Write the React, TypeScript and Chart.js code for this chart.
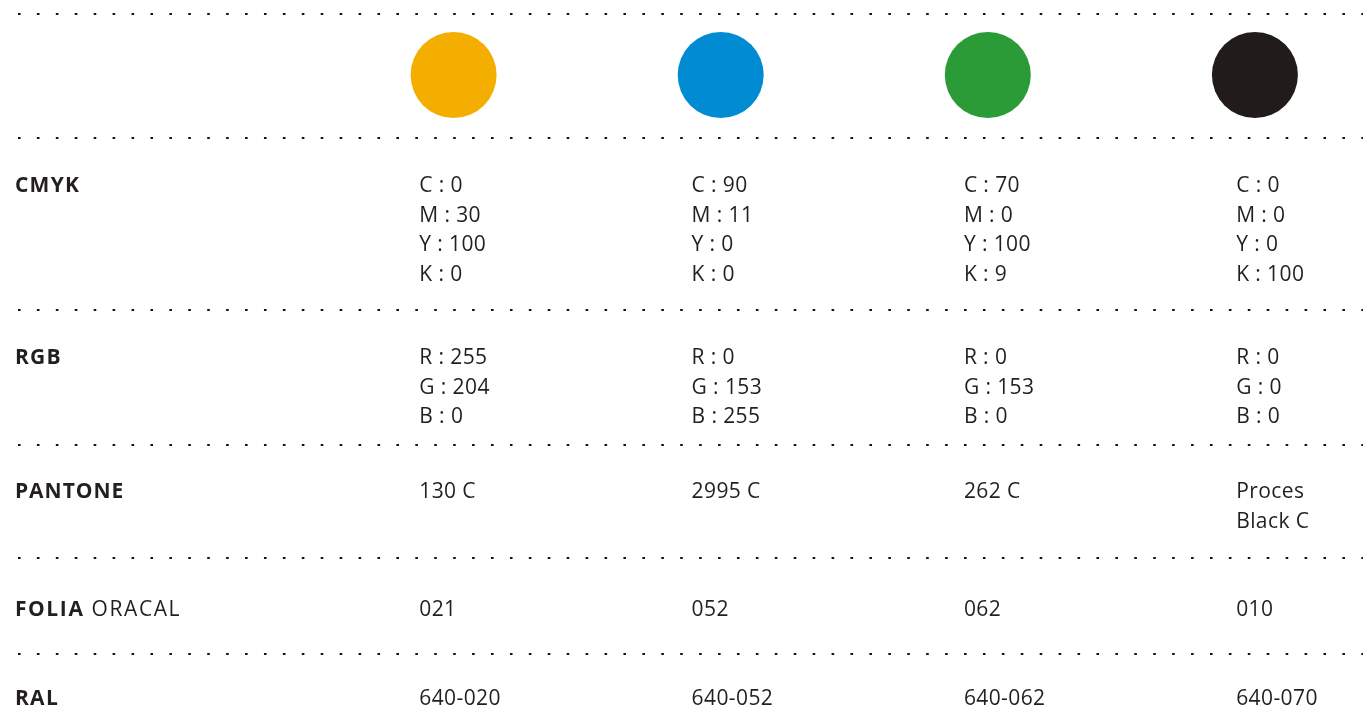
import React, { useEffect, useRef } from "react";
import { Chart, registerables } from "chart.js";

Chart.register(...registerables);

// ---- data ----
const colorNames = ["Żółty", "Niebieski", "Zielony", "Czarny"];
const swatchColors = ["#F3AE00", "#008BD2", "#2B9B38", "#211C1A"];
const cmykC = [0, 90, 70, 0];
const cmykM = [30, 11, 0, 0];
const cmykY = [100, 0, 100, 0];
const cmykK = [0, 0, 9, 100];
const rgbR = [255, 0, 0, 0];
const rgbG = [204, 153, 153, 0];
const rgbB = [0, 255, 0, 0];
const pantone = ["130 C", "2995 C", "262 C", "Proces\nBlack C"];
const oracal = ["021", "052", "062", "010"];
const ral = ["640-020", "640-052", "640-062", "640-070"];

// ---- layout (positions / styles) ----
const TEXT = "#231F20";
const DOTS = "#151213";
const FONT = '"Open Sans", "Noto Sans", sans-serif';
const FONT_SIZE = 21;
const LINE = 29.5;
const HEADER_COL = -0.485;
const SWATCH_Y = 75;
const SWATCH_R = 43;
const SEPARATORS = [14, 138, 310, 445, 558, 654];

type HeaderPart = { text: string; bold: boolean; spacing: string };
type Row = { header: HeaderPart[]; baseline: number; cells: string[][] };

const rows: Row[] = [
  {
    header: [{ text: "CMYK", bold: true, spacing: "1.3px" }],
    baseline: 192,
    cells: colorNames.map((_, i) => [
      `C : ${cmykC[i]}`,
      `M : ${cmykM[i]}`,
      `Y : ${cmykY[i]}`,
      `K : ${cmykK[i]}`,
    ]),
  },
  {
    header: [{ text: "RGB", bold: true, spacing: "1.3px" }],
    baseline: 364,
    cells: colorNames.map((_, i) => [`R : ${rgbR[i]}`, `G : ${rgbG[i]}`, `B : ${rgbB[i]}`]),
  },
  {
    header: [{ text: "PANTONE", bold: true, spacing: "1px" }],
    baseline: 498,
    cells: pantone.map((p) => p.split("\n")),
  },
  {
    header: [
      { text: "FOLIA", bold: true, spacing: "1.6px" },
      { text: " ORACAL", bold: false, spacing: "1.6px" },
    ],
    baseline: 616,
    cells: oracal.map((o) => [o]),
  },
  {
    header: [{ text: "RAL", bold: true, spacing: "1.3px" }],
    baseline: 705,
    cells: ral.map((r) => [r]),
  },
];

const tablePlugin = {
  id: "tableText",
  afterDraw(chart: any) {
    const ctx = chart.ctx as CanvasRenderingContext2D;
    const xs = chart.scales.x;
    const ys = chart.scales.y;
    ctx.save();
    ctx.fillStyle = TEXT;
    ctx.textAlign = "left";
    ctx.textBaseline = "alphabetic";
    rows.forEach((row) => {
      const by = ys.getPixelForValue(row.baseline);
      let hx = xs.getPixelForValue(HEADER_COL);
      row.header.forEach((part) => {
        ctx.font = `${part.bold ? 700 : 400} ${FONT_SIZE}px ${FONT}`;
        (ctx as any).letterSpacing = part.spacing;
        ctx.fillText(part.text, hx, by);
        hx += ctx.measureText(part.text).width;
      });
      ctx.font = `400 ${FONT_SIZE}px ${FONT}`;
      (ctx as any).letterSpacing = "0.4px";
      row.cells.forEach((lines, i) => {
        const cx = xs.getPixelForValue(i + 1);
        lines.forEach((ln, j) => ctx.fillText(ln, cx, by + j * LINE));
      });
    });
    ctx.restore();
  },
};

export default function App() {
  const ref = useRef<HTMLCanvasElement | null>(null);

  useEffect(() => {
    if (!ref.current) return;
    const chart = new Chart(ref.current, {
      type: "bubble",
      data: {
        datasets: [
          {
            label: "Kolory",
            xAxisID: "x2",
            yAxisID: "y",
            data: swatchColors.map((_, i) => ({ x: i + 1, y: SWATCH_Y, r: SWATCH_R })),
            backgroundColor: swatchColors,
            borderWidth: 0,
            hoverRadius: 0,
            clip: false,
          } as any,
        ],
      },
      options: {
        animation: false,
        responsive: false,
        events: [],
        layout: { autoPadding: false, padding: { left: 18, right: 4, top: 0, bottom: 0 } },
        plugins: {
          legend: { display: false },
          tooltip: { enabled: false },
          title: { display: false },
        },
        scales: {
          x: {
            type: "linear",
            display: false,
            min: -0.4737,
            max: 4.4657,
          },
          x2: {
            type: "linear",
            display: false,
            min: -0.6308,
            max: 4.4047,
          },
          y: {
            type: "linear",
            reverse: true,
            min: 0,
            max: 709,
            display: true,
            afterFit: (s: any) => {
              s.width = 0;
            },
            afterBuildTicks: (s: any) => {
              s.ticks = SEPARATORS.map((v) => ({ value: v }));
            },
            ticks: { display: false },
            border: { display: false, dash: [2.6, 16.32], dashOffset: 0 },
            grid: {
              drawTicks: false,
              color: DOTS,
              lineWidth: 2,
            },
          },
        },
      } as any,
      plugins: [tablePlugin],
    });
    return () => chart.destroy();
  }, []);

  return (
    <div style={{ position: "fixed", left: 0, top: 0, width: 1367, height: 709, background: "#fff" }}>
      <canvas ref={ref} width={1367} height={709} />
    </div>
  );
}
